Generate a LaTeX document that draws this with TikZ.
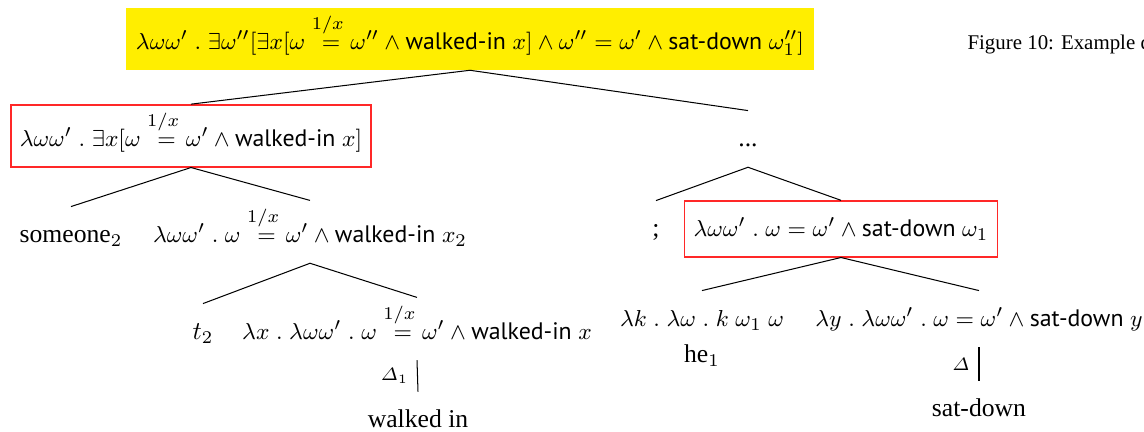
\documentclass[tikz,border=0pt]{standalone}
\usepackage{amsmath,amssymb}
\usepackage{fontspec}
\setmainfont{Liberation Serif}
\setsansfont{PT Sans}
\usepackage{tikz}
\tikzset{>=latex}
\definecolor{myyellow}{RGB}{255, 238, 0}
\definecolor{myred}{RGB}{255, 40, 40}
\newcommand{\eqx}{\stackrel{1/x}{\rule{0pt}{1.25ex}=}}
\newcommand{\wkin}{\textsf{walked-in}}
\newcommand{\stdn}{\textsf{sat-down}}
\tikzset{
  tnode/.style = {anchor = base, inner xsep = 3.5pt, inner ysep = 1.2pt, text height = 12.8pt, text depth = 6.5pt},
  fnode/.style = {tnode, font = \fontsize{9.3}{11}\selectfont},
  tall/.style = {text height = 15.2pt},
  redbox/.style = {draw = myred, line width = 0.6pt},
  branch/.style = {line width = 0.4pt},
  tag/.style = {left, inner sep = 3.5pt, font = \scriptsize}
}

\begin{document}
\begin{tikzpicture}[x = 0.0137cm, y = -0.0137cm]
\useasboundingbox (0,0) rectangle (1144,432);
\clip (0,0) rectangle (1144,432);
% root
\node[fnode, tall, fill = myyellow, inner xsep = 4pt] (top) at (470,50)
  {$\lambda\omega\omega'\;.\;\exists\omega''[\exists x[\omega\eqx\omega''\wedge\wkin\;x]\wedge\omega''=\omega'\wedge\stdn\;\omega''_1]$};
\node[anchor = base west, inner sep = 0pt, font = \fontsize{8.15}{11}\selectfont] (fig) at (967,50) {Figure 10: Example d};
% left part
\node[fnode, tall, redbox] (lbox) at (191,147) {$\lambda\omega\omega'\;.\;\exists x[\omega\eqx\omega'\wedge\wkin\;x]$};
\node[tnode] (some) at (71,243) {someone$_2$};
\node[fnode, tall] (lwalk) at (310,243) {$\lambda\omega\omega'\;.\;\omega\eqx\omega'\wedge\wkin\;x_2$};
\node[tnode] (trace) at (203,340) {$t_2$};
\node[fnode, tall] (lamx) at (417,340) {$\lambda x\;.\;\lambda\omega\omega'\;.\;\omega\eqx\omega'\wedge\wkin\;x$};
\node[tnode] (walked) at (418,428) {walked in};
% right part
\node[tnode] (dots) at (748,147) {...};
\node[tnode] (semi) at (656,237) {;};
\node[fnode, redbox] (rbox) at (841,237) {$\lambda\omega\omega'\;.\;\omega=\omega'\wedge\stdn\;\omega_1$};
\node[fnode] (lamk) at (702,327) {$\lambda k\;.\;\lambda\omega\;.\;k\;\omega_1\;\omega$};
\node[anchor = base] (he) at (702,363) {he$_1$};
\node[fnode] (lamy) at (979,327) {$\lambda y\;.\;\lambda\omega\omega'\;.\;\omega=\omega'\wedge\stdn\;y$};
\node[tnode] (satdown) at (979,417) {sat-down};
% branches
\draw[branch] (lbox.north) -- (top.south) -- (dots.north);
\draw[branch] (some.north) -- (lbox.south) -- (lwalk.north);
\draw[branch] (trace.north) -- (lwalk.south) -- (lamx.north);
\draw[branch] (lamx.south) -- node[tag] {$\varDelta_1$} (walked.north);
\draw[branch] (semi.north) -- (dots.south) -- (rbox.north);
\draw[branch] (lamk.north) -- (rbox.south) -- (lamy.north);
\draw[branch] (lamy.south) -- node[tag] {$\varDelta$} (satdown.north);
\end{tikzpicture}
\end{document}
